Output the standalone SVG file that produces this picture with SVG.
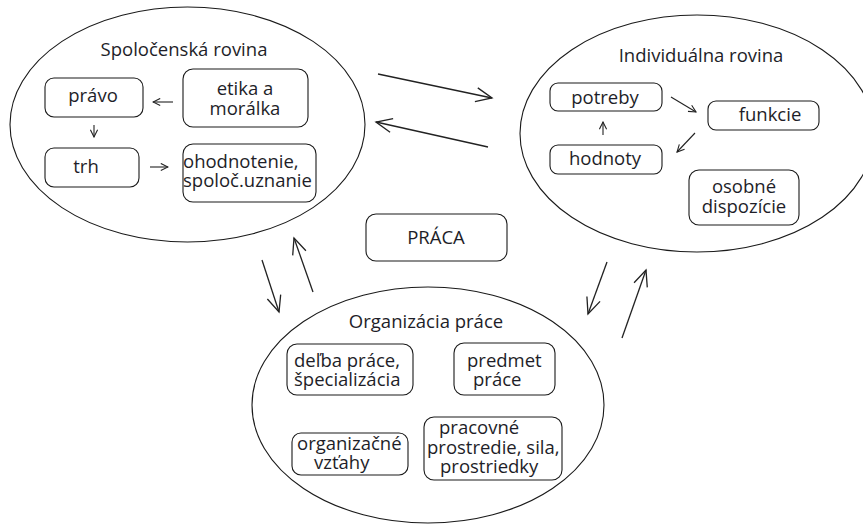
<svg xmlns="http://www.w3.org/2000/svg" width="863" height="524" viewBox="0 0 863 524">
<defs>
<style>
.ell{fill:none;stroke:#1a1a1a;stroke-width:1.1}
.box{fill:#fff;stroke:#1a1a1a;stroke-width:1.1}
.t{font-family:"Open Sans","Liberation Sans",sans-serif;font-size:18.5px;fill:#1e1e28}
.m{text-anchor:middle}
.big{fill:none;stroke:#222;stroke-width:1.3;marker-end:url(#ahL)}
.sm{fill:none;stroke:#222;stroke-width:1.1;marker-end:url(#ahS)}
</style>
<marker id="ahL" viewBox="0 0 20 20" refX="18" refY="10" markerWidth="20" markerHeight="20" markerUnits="userSpaceOnUse" orient="auto"><path d="M2,3 L18,10 L2,17" fill="none" stroke="#222" stroke-width="1.3"/></marker>
<marker id="ahS" viewBox="0 0 20 20" refX="18" refY="10" markerWidth="9" markerHeight="9" markerUnits="userSpaceOnUse" orient="auto"><path d="M2,2 L18,10 L2,18" fill="none" stroke="#222" stroke-width="2.4"/></marker>
</defs>
<rect width="863" height="524" fill="#fff"/>

<g id="spolocenska">
<ellipse class="ell" cx="187.5" cy="124.5" rx="177.5" ry="117.5"/>
<text class="t m" x="184" y="56">Spoločenská rovina</text>
</g>
<g id="pravo"><rect class="box" x="45" y="78" width="98" height="39" rx="9"/><text class="t m" x="93" y="102">právo</text></g>
<g id="etika"><rect class="box" x="183" y="69" width="125" height="58" rx="10"/><text class="t m" x="245" y="95">etika a</text><text class="t m" x="245" y="115">morálka</text></g>
<g id="trh"><rect class="box" x="45" y="148" width="94" height="39" rx="9"/><text class="t m" x="86" y="173">trh</text></g>
<g id="ohodnotenie"><rect class="box" x="183" y="144" width="133" height="58" rx="10"/><text class="t" x="183" y="168">ohodnotenie,</text><text class="t" x="183" y="187">spoloč.uznanie</text></g>

<g id="individualna">
<ellipse class="ell" cx="697" cy="133.5" rx="177" ry="118.5"/>
<text class="t m" x="701" y="62">Individuálna rovina</text>
</g>
<g id="potreby"><rect class="box" x="550" y="83" width="112" height="28" rx="8"/><text class="t m" x="605" y="104">potreby</text></g>
<g id="funkcie"><rect class="box" x="708" y="101" width="111" height="29" rx="8"/><text class="t m" x="770" y="121">funkcie</text></g>
<g id="hodnoty"><rect class="box" x="550" y="145" width="112" height="29" rx="8"/><text class="t m" x="605" y="165">hodnoty</text></g>
<g id="osobne"><rect class="box" x="689" y="170" width="110" height="55" rx="10"/><text class="t m" x="744" y="193">osobné</text><text class="t m" x="744" y="213">dispozície</text></g>

<g id="praca"><rect class="box" x="366" y="214" width="141" height="47" rx="10"/><text class="t m" x="436" y="244">PRÁCA</text></g>

<g id="organizacia">
<ellipse class="ell" cx="428" cy="405" rx="176" ry="118"/>
<text class="t m" x="426" y="328">Organizácia práce</text>
</g>
<g id="delba"><rect class="box" x="287" y="344" width="126" height="51" rx="10"/><text class="t" x="294" y="367">deľba práce,</text><text class="t" x="294" y="386">špecializácia</text></g>
<g id="predmet"><rect class="box" x="454" y="343" width="101" height="52" rx="10"/><text class="t" x="467" y="367">predmet</text><text class="t" x="473" y="386">práce</text></g>
<g id="vztahy"><rect class="box" x="292" y="433" width="116" height="42" rx="9"/><text class="t" x="297" y="450">organizačné</text><text class="t" x="314" y="469">vzťahy</text></g>
<g id="pracovne"><rect class="box" x="424" y="417" width="138" height="63" rx="10"/><text class="t" x="439" y="434">pracovné</text><text class="t" x="427" y="454">prostredie, sila,</text><text class="t" x="440" y="473">prostriedky</text></g>

<g id="connectors">
<path class="sm" d="M173,102 L153,102"/>
<path class="sm" d="M94,125 L94,137"/>
<path class="sm" d="M150,167 L168,167"/>
<path class="sm" d="M671,97 L696,112"/>
<path class="sm" d="M695,133 L677,152"/>
<path class="sm" d="M603,135 L603,122"/>
<path class="big" d="M378,74 L492,98"/>
<path class="big" d="M488,147 L376,122"/>
<path class="big" d="M262,260 L279,312"/>
<path class="big" d="M313,292 L294,238"/>
<path class="big" d="M607,262 L588,314"/>
<path class="big" d="M622,338 L646,270"/>
</g>
</svg>
